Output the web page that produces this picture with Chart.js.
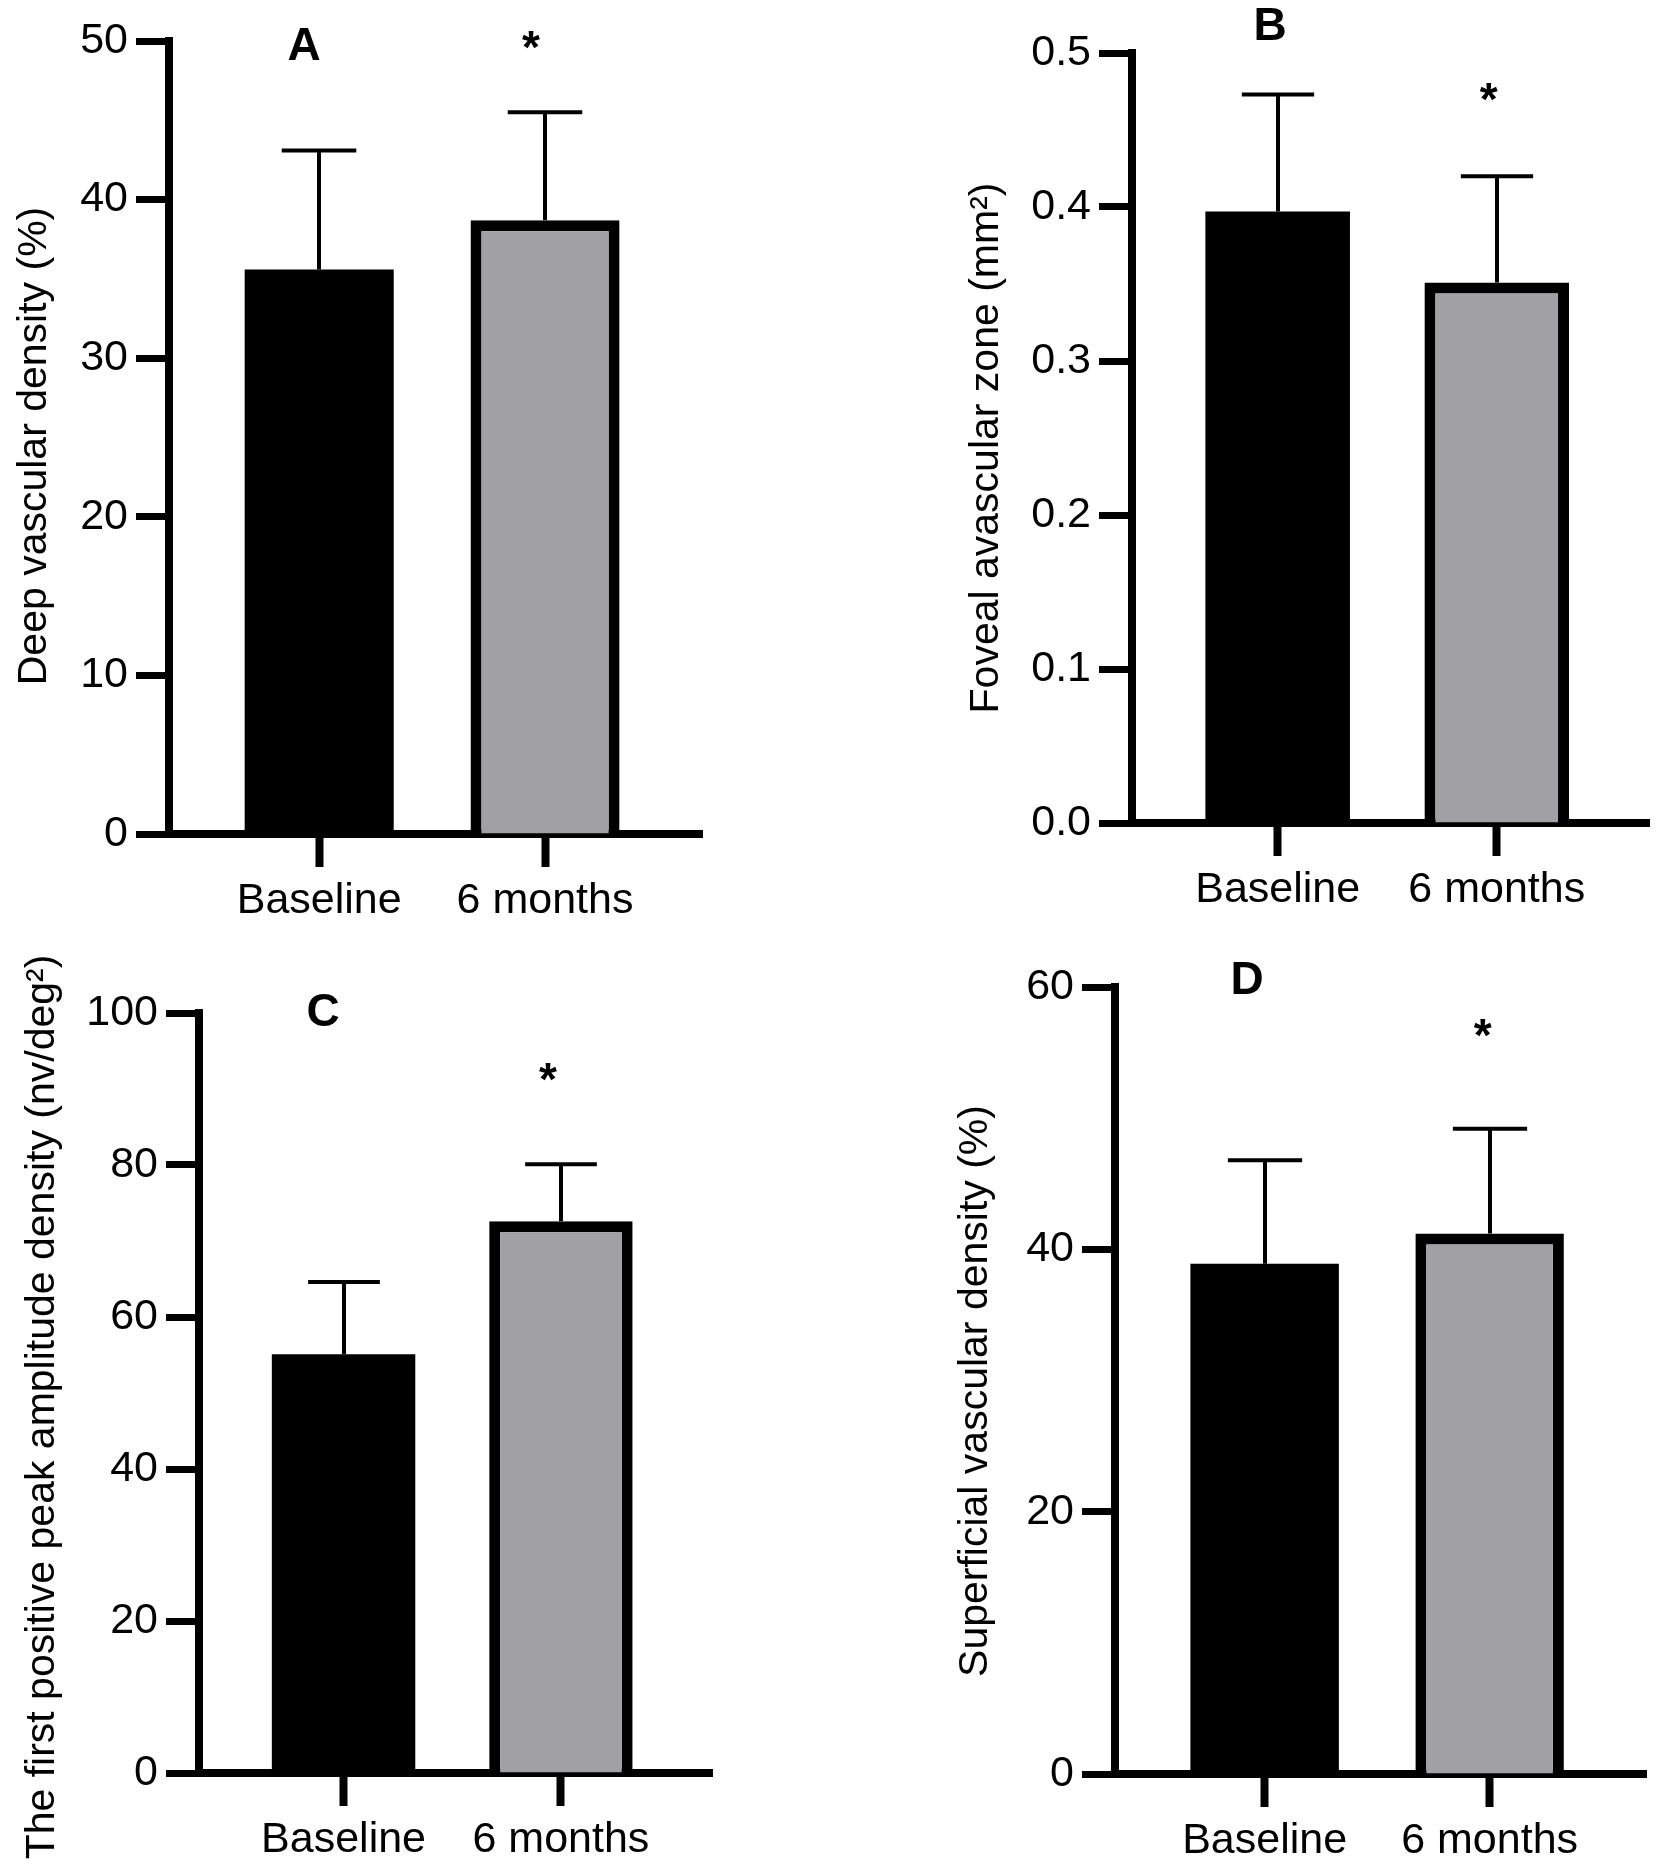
<!DOCTYPE html>
<html><head><meta charset="utf-8">
<script src="https://cdn.jsdelivr.net/npm/chart.js@4.4.1/dist/chart.umd.min.js"></script>
<style>
html,body{margin:0;padding:0;background:#fff;}
body{width:1665px;height:1873px;position:relative;overflow:hidden;}
canvas{position:absolute;}
</style></head><body>
<canvas id="cA" style="left:0px;top:0px;width:832px;height:936px" width="832" height="936"></canvas>
<canvas id="cB" style="left:832px;top:0px;width:833px;height:936px" width="833" height="936"></canvas>
<canvas id="cC" style="left:0px;top:936px;width:832px;height:937px" width="832" height="937"></canvas>
<canvas id="cD" style="left:832px;top:936px;width:833px;height:937px" width="833" height="937"></canvas>
<script>
// ---- data ----
const categories = ['Baseline', '6 months'];

const meanA = [35.6, 38.7];
const sdA   = [7.5, 6.8];
const starA = 49.9;

const meanB = [0.397, 0.351];
const sdB   = [0.076, 0.069];
const starB = 0.4735;

const meanC = [55.1, 72.6];
const sdC   = [9.5, 7.5];
const starC = 91.9;

const meanD = [38.9, 41.2];
const sdD   = [7.9, 8.0];
const starD = 56.7;

const yMaxA = 50,  yStepA = 10;
const yMaxB = 0.5, yStepB = 0.1;
const yMaxC = 100, yStepC = 20;
const yMaxD = 60,  yStepD = 20;

const titleA = 'Deep vascular density (%)';
const titleB = 'Foveal avascular zone (mm\u00B2)';
const titleC = 'The first positive peak amplitude density (nv/deg\u00B2)';
const titleD = 'Superficial vascular density (%)';

// ---- styling ----
const FONT = '"Liberation Sans", Arial, Helvetica, sans-serif';
const GREY = '#a1a1a5';

const decor = {
  id: 'decor',
  afterDatasetsDraw(chart, args, o) {
    const ctx = chart.ctx;
    const y = chart.scales.y;
    const meta = chart.getDatasetMeta(0);
    ctx.save();
    ctx.strokeStyle = '#000';
    ctx.lineWidth = 4;
    ctx.lineCap = 'butt';
    o.means.forEach((m, i) => {
      const bar = meta.data[i];
      const cx = Math.round(bar.x);
      const y0 = y.getPixelForValue(m);
      const y1 = y.getPixelForValue(m + o.sds[i]);
      const half = bar.width * 0.25;
      ctx.beginPath();
      ctx.moveTo(cx, y0); ctx.lineTo(cx, y1);
      ctx.moveTo(cx - half, y1); ctx.lineTo(cx + half, y1);
      ctx.stroke();
    });
    // significance star over the second bar
    const sb = meta.data[1];
    const sz = 46;
    ctx.fillStyle = '#000';
    ctx.font = 'bold ' + sz + 'px ' + FONT;
    ctx.textAlign = 'center';
    ctx.textBaseline = 'alphabetic';
    ctx.fillText('*', sb.x + o.starDx, y.getPixelForValue(o.star) + 0.45 * sz);
    // panel letter
    ctx.font = 'bold 46px ' + FONT;
    ctx.fillText(o.letter, o.letterX, o.letterY);
    // y axis title
    ctx.translate(o.titleX, o.titleY);
    ctx.rotate(-Math.PI / 2);
    ctx.font = '41px ' + FONT;
    ctx.textBaseline = 'middle';
    ctx.fillText(o.title, 0, 0);
    ctx.restore();
  }
};

function panel(id, means, sds, yMax, yStep, decimals, star, title, letter, lay) {
  const cv = document.getElementById(id);
  const W = cv.width, H = cv.height;
  return new Chart(cv, {
    type: 'bar',
    data: {
      datasets: [{
        data: means.map((v, i) => ({ x: i, y: v })),
        backgroundColor: ['#000000', GREY],
        borderColor: '#000000',
        borderWidth: [0, 11],
        borderSkipped: 'start',
        barPercentage: 0.66,
        categoryPercentage: 1.0
      }]
    },
    options: {
      responsive: false,
      devicePixelRatio: 1,
      animation: false,
      layout: { padding: { left: 0, top: lay.top, right: W - lay.right, bottom: 0 } },
      plugins: {
        legend: { display: false },
        tooltip: { enabled: false },
        decor: {
          means: means, sds: sds, star: star, letter: letter, title: title, starDx: lay.starDx,
          letterX: lay.letterX, letterY: lay.letterY, titleX: lay.titleX, titleY: lay.titleY
        }
      },
      scales: {
        x: {
          type: 'linear',
          offset: false,
          min: -0.665, max: 1.695,
          afterBuildTicks: s => { s.ticks = [{ value: 0 }, { value: 1 }]; },
          afterFit: s => { s.height = H - lay.bottom; },
          grid: { offset: false, drawOnChartArea: false, drawTicks: true, tickLength: 33, tickWidth: 8, tickColor: '#000', color: '#000' },
          border: { display: true, width: 8, color: '#000' },
          ticks: {
            color: '#000', padding: 8, maxRotation: 0, autoSkip: false,
            font: { family: FONT, size: 43 },
            callback: v => categories[v] !== undefined ? categories[v] : ''
          }
        },
        y: {
          min: 0, max: yMax,
          afterFit: s => { s.width = lay.left; },
          grid: { drawOnChartArea: false, drawTicks: true, tickLength: 33, tickWidth: 7, tickColor: '#000', color: '#000' },
          border: { display: true, width: 8, color: '#000' },
          ticks: {
            stepSize: yStep, color: '#000', padding: 8,
            font: { family: FONT, size: 43 },
            callback: v => Number(v).toFixed(decimals)
          }
        }
      }
    },
    plugins: [decor]
  });
}

panel('cA', meanA, sdA, yMaxA, yStepA, 0, starA, titleA, 'A',
  { left: 169, top: 41, right: 702, bottom: 834, starDx: -14, letterX: 304, letterY: 60, titleX: 35, titleY: 446 });
panel('cB', meanB, sdB, yMaxB, yStepB, 1, starB, titleB, 'B',
  { left: 300, top: 53, right: 817, bottom: 823, starDx: -8, letterX: 438, letterY: 40, titleX: 155, titleY: 448 });
panel('cC', meanC, sdC, yMaxC, yStepC, 0, starC, titleC, 'C',
  { left: 199, top: 77, right: 712, bottom: 837, starDx: -13, letterX: 323, letterY: 90, titleX: 43, titleY: 471 });
panel('cD', meanD, sdD, yMaxD, yStepD, 0, starD, titleD, 'D',
  { left: 283, top: 51, right: 814, bottom: 838, starDx: -7, letterX: 415, letterY: 58, titleX: 144, titleY: 455 });
</script>
</body></html>
